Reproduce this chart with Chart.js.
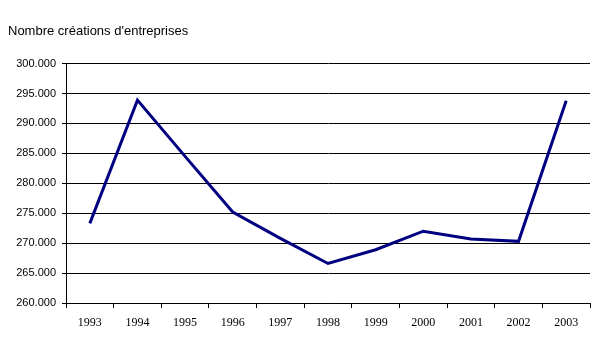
<!DOCTYPE html>
<html>
<head>
<meta charset="utf-8">
<script src="https://cdn.jsdelivr.net/npm/chart.js@4"></script>
<style>
  html, body { margin: 0; padding: 0; background: #fff; }
  #wrap { width: 601px; height: 348px; }
</style>
</head>
<body>
<div id="wrap"><canvas id="chart" width="601" height="348"></canvas></div>
<script>
// data
const years = ["1993", "1994", "1995", "1996", "1997", "1998", "1999", "2000", "2001", "2002", "2003"];
const creations = [273300, 293900, 284500, 275200, 270800, 266600, 268900, 272000, 270700, 270300, 293800];
const yMin = 260000;
const yMax = 300000;
const yStep = 5000;

function fmt(v) {
  return String(v).replace(/\B(?=(\d{3})+(?!\d))/g, ".");
}

const ctx = document.getElementById("chart").getContext("2d");
new Chart(ctx, {
  type: "line",
  data: {
    labels: years,
    datasets: [
      {
        label: "Nombre créations d'entreprises",
        data: creations,
        borderColor: "#000080",
        borderWidth: 3,
        pointRadius: 0,
        tension: 0,
        fill: false,
      },
    ],
  },
  options: {
    responsive: false,
    animation: false,
    layout: { padding: { left: 8, right: 11, top: 0, bottom: 0 } },
    plugins: {
      legend: { display: false },
      tooltip: { enabled: false },
      title: {
        display: true,
        text: "Nombre créations d'entreprises",
        align: "start",
        color: "#000",
        font: { family: "Liberation Sans, Arial", size: 13, weight: "normal" },
        padding: { top: 24, bottom: 24 },
      },
    },
    scales: {
      y: {
        min: yMin,
        max: yMax,
        ticks: {
          stepSize: yStep,
          color: "#000",
          padding: 6,
          font: { family: "Liberation Sans, Arial", size: 11 },
          callback: (v) => fmt(v),
        },
        grid: { color: "#000", lineWidth: 1, tickLength: 4 },
        border: { display: true, color: "#000", width: 1 },
        afterFit: (s) => { s.width = 58; },
      },
      x: {
        offset: true,
        ticks: {
          color: "#000",
          padding: 8,
          maxRotation: 0,
          autoSkip: false,
          font: { family: "Liberation Serif, Times New Roman", size: 12 },
        },
        grid: { offset: true, drawOnChartArea: false, color: "#000", tickLength: 5 },
        border: { display: true, color: "#000", width: 1 },
        afterFit: (s) => { s.height = 45; },
      },
    },
  },
});
</script>
</body>
</html>
